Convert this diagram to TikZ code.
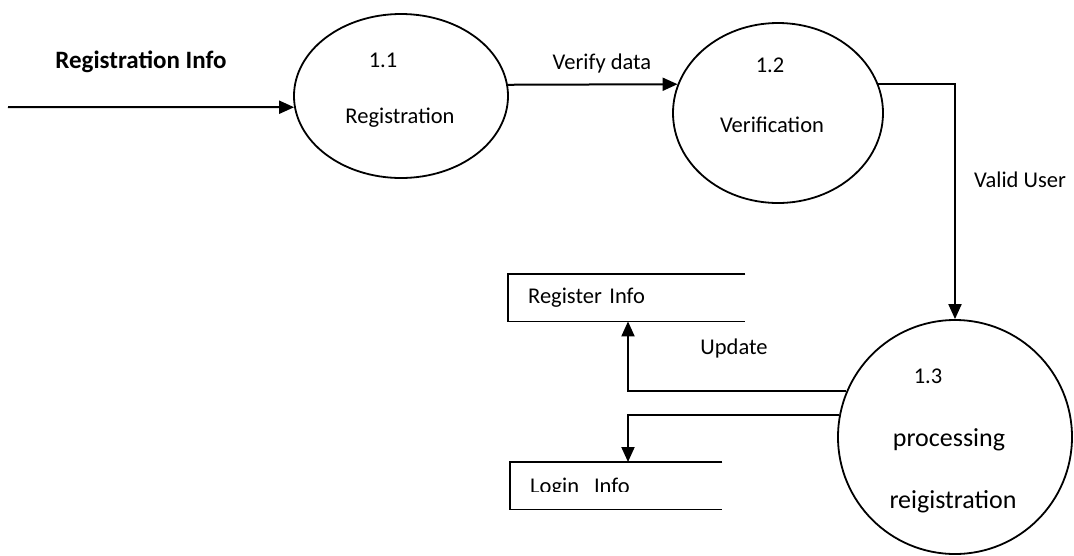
\documentclass[tikz,border=0pt]{standalone}
\usepackage{fontspec}
\setmainfont{Carlito}
\usetikzlibrary{shapes.geometric, arrows.meta, positioning}

\tikzset{
  proc/.style={draw, ellipse, line width=1.8pt, inner sep=0pt},
  store/.style={anchor=north west, minimum height=47pt, inner xsep=20pt, align=left, font=\fontsize{22.5}{27}\selectfont},
  storeline/.style={line width=1.8pt},
  flow/.style={line width=2pt, -{Triangle[length=15pt,width=13pt]}},
  lbl/.style={font=\fontsize{22.5}{27}\selectfont},
  big/.style={font=\fontsize{26}{30}\selectfont}
}

\begin{document}
\begin{tikzpicture}[x=1pt,y=-1pt]
\useasboundingbox (0,0) rectangle (1074,555);

% processes
\node[proc, minimum width=214pt, minimum height=164pt] (p11) at (401,96) {};
\node[proc, minimum width=210pt, minimum height=180pt] (p12) at (778,113) {};
\node[proc, minimum width=234pt, minimum height=234pt] (p13) at (955,437) {};

\node[lbl] (n11) at (383,60) {1.1};
\node[lbl] (t11) at (400,118) {Registration};
\node[lbl] (n12) at (770,65) {1.2};
\node[lbl] (t12) at (772,125) {Verification};
\node[lbl] (n13) at (928,376) {1.3};
\node[big] (t13a) at (949,440) {processing};
\node[big] (t13b) at (953,502) {reigistration};

% data stores
\node[store, text width=197pt] (reg) at (508,274) {Register Info};
\draw[storeline] (reg.north east) -- (reg.north west) -- (reg.south west) -- (reg.south east);
\begin{scope}
\clip (500,455) rectangle (740,491);
\node[store, text width=172pt, text height=19pt, text depth=4pt] (login) at (510,462) {Login~ Info};
\end{scope}
\draw[storeline] (login.north east) -- (login.north west) -- (login.south west) -- (login.south east);

% flows
\coordinate (src) at (8,107);
\node[font=\bfseries\fontsize{25}{30}\selectfont] (regin) at (141,62) {Registration Info};
\draw[flow] (src) -- (p11.186);

\draw[flow] (p11.6) -- (p12.164);
\node[lbl] (vd) at (602,63) {Verify data};

\draw[flow] (p12.16) -| (p13.north);
\node[lbl] (vu) at (1020,180) {Valid User};

\draw[flow] (p13.157) -| ([xshift=120pt]reg.south west);
\node[lbl] (upd) at (734,348) {Update};

\draw[flow] (p13.169) -| ([xshift=118pt]login.north west);
\end{tikzpicture}
\end{document}
